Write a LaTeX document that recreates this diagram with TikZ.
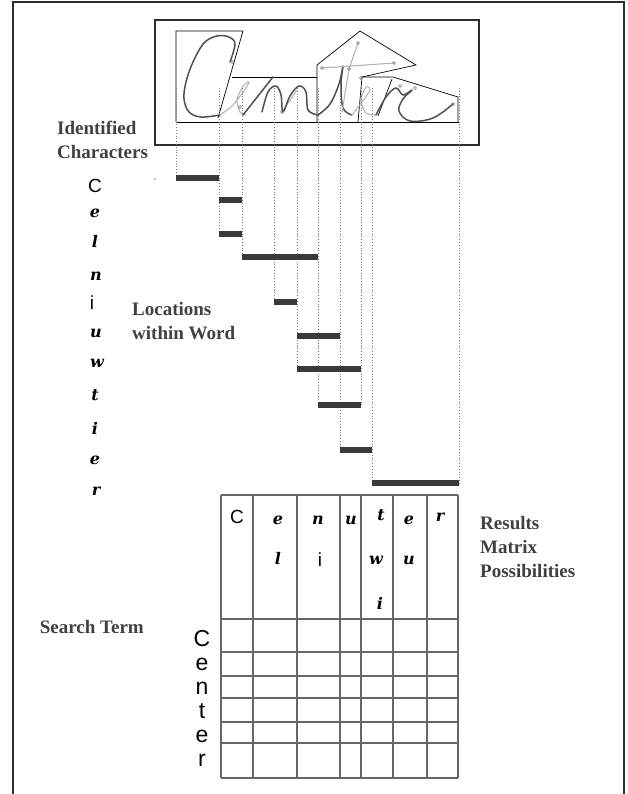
\documentclass[tikz,border=0pt]{standalone}
\usepackage{fontspec}
\setmainfont{Liberation Serif}
\newfontfamily\arialfont{Liberation Sans}
\newfontfamily\glyphfont{DejaVu Serif}
\definecolor{ink}{HTML}{2E2E2E}
\definecolor{labelgray}{HTML}{404040}
\definecolor{guidegray}{HTML}{7A7A7A}
\definecolor{pengray}{HTML}{505050}
\definecolor{lightpen}{HTML}{B4B4B4}
\definecolor{barfill}{HTML}{3A3A3A}
\definecolor{gridgray}{HTML}{666666}
\usetikzlibrary{positioning}
\tikzset{
  lbl/.style={font=\fontsize{19}{24}\selectfont\bfseries, text=labelgray,
    align=left, inner sep=0pt},
  glyph/.style={font=\fontsize{16}{16}\selectfont\glyphfont\bfseries\itshape,
    text=black, inner sep=0pt},
  sans/.style={font=\fontsize{#1}{#1}\selectfont\arialfont, text=black,
    inner sep=0pt},
  sans/.default=19,
  frame/.style={draw=ink, line width=1.1pt},
  seg/.style={draw=black, line width=0.7pt},
  pen/.style={draw=pengray, line width=1.5pt, line cap=round, line join=round},
  lightstroke/.style={draw=lightpen, line width=1.1pt, line cap=round},
  feat/.style={circle, draw=guidegray, inner sep=0pt, minimum size=3pt},
  guide/.style={draw=guidegray, dotted, line width=0.8pt},
  locbar/.style={fill=barfill},
  gridline/.style={draw=gridgray, line width=1.2pt},
}

\begin{document}
\begin{tikzpicture}[x=1pt, y=-1pt]
    \useasboundingbox (0,0) rectangle (628,794);
    \draw[frame] (13,794) -- (13,2) -- (624,2) -- (624,794);

    % handwritten word and its segments
    \draw[frame] (155,20) rectangle (479,145);
    \draw[seg] (176,122) -- (176,31) -- (243,31) -- (218,118);
    \draw[seg] (232,77) -- (317,77);
    \draw[seg] (317,122) -- (317,65) -- (360,31) -- (416,65) -- (362,77) -- (358,122);
    \draw[seg] (362,77) -- (393,77) -- (458,97) -- (458,122);
    \draw[seg] (392,79) -- (378,116);
    \draw[seg] (176,122) -- (459,122);

    \draw[pen] plot[smooth, tension=0.6] coordinates {(230,62) (235,44) (229,37)
      (217,36) (204,43) (193,62) (186,82) (184,99) (189,112) (201,117) (220,115)};
    \draw[lightstroke] plot[smooth] coordinates {(220,115) (232,106) (244,91)
      (249,82) (244,85) (237,99) (240,112) (246,115)};
    \draw[pen] (243,115) -- (273,77);
    \draw[lightstroke] (282,112) -- (297,90);
    \draw[pen] plot[smooth, tension=0.6] coordinates {(262,112) (268,92) (276,86)
      (281,95) (283,112) (290,96) (299,86) (306,92) (308,110) (318,115)};
    \draw[pen] plot[smooth, tension=0.6] coordinates {(318,115) (330,104) (339,84)
      (343,66) (341,84) (343,108) (352,115)};
    \draw[lightstroke] (322,68) -- (394,63);
    \draw[lightstroke] (358,43) -- (349,69) -- (342,112);
    \draw[lightstroke] plot[smooth] coordinates {(352,115) (362,102) (370,90)
      (366,87) (361,100) (366,113) (376,115)};
    \draw[pen] plot[smooth, tension=0.6] coordinates {(376,115) (386,97) (396,88)
      (403,95) (412,90) (403,99) (399,111) (410,121) (433,118) (453,104)};
    \foreach \fx/\fy [count=\k] in {358/43, 322/68, 349/69, 394/63, 400/86,
      415/88, 361/78, 453/104, 282/112, 240/107, 232/62}
      \node[feat] (pt\k) at (\fx,\fy) {};

    % labels
    \node[lbl, anchor=west] (ident) at (57,140) {Identified\\Characters};
    \node[lbl, anchor=west] (loc) at (132,321) {Locations\\within Word};
    \node[lbl, anchor=west] (res) at (480,547) {Results\\Matrix\\Possibilities};
    \node[lbl, anchor=east] (search) at (144,627) {Search Term};
    \fill[guidegray] (155,179) circle (0.9);

    % identified characters
    \node[sans] (idC) at (95,186) {C};
    \node[glyph] (ide) at (95,213) {e};
    \node[glyph] (idl) at (95,241) {l};
    \node[glyph] (idn) at (96,276) {n};
    \node[sans] (idi) at (92,303) {i};
    \node[glyph] (idu) at (96,333) {u};
    \node[glyph] (idw) at (97,363) {w};
    \node[glyph] (idt) at (95,395) {t};
    \node[glyph] (idj) at (95,428) {i};
    \node[glyph] (ide2) at (95,460) {e};
    \node[glyph] (idr) at (96,491) {r};

    % locations within word
    \foreach \xx/\yy in {176/178, 219/234, 242/257, 274/302, 297/369,
      318/405, 340/450, 361/405, 372/483, 459/483}
      \draw[guide] (\xx,88) -- (\xx,\yy);
    \foreach \xa/\xb/\yy in {176/219/178, 219/242/200, 219/242/234,
      242/318/257, 274/297/302, 297/340/336, 297/361/369, 318/361/405,
      340/372/450, 372/459/483}
      \fill[locbar] (\xa,\yy-3) rectangle (\xb,\yy+3);

    % results matrix
    \foreach \xx in {221,253,297,340,361,393,427,458}
      \draw[gridline] (\xx,495) -- (\xx,778);
    \foreach \yy in {495,619,652,676,698,722,743,778}
      \draw[gridline] (221,\yy) -- (458,\yy);

    \node[sans] (mC) at (237,517) {C};
    \node[glyph] (me) at (278,520) {e};
    \node[glyph] (ml) at (278,558) {l};
    \node[glyph] (mn) at (318,520) {n};
    \node[sans] (mi) at (320,560) {i};
    \node[glyph] (mu) at (351,520) {u};
    \node[glyph] (mt) at (381,515) {t};
    \node[glyph] (mw) at (376,560) {w};
    \node[glyph] (mj) at (380,603) {i};
    \node[glyph] (me2) at (409,520) {e};
    \node[glyph] (mu2) at (409,560) {u};
    \node[glyph] (mr) at (440,517) {r};

    % search term
    \foreach \ch [count=\k from 0] in {C,e,n,t,e,r}
      \node[sans=23, anchor=base] (row\k) at (202,646+24*\k) {\ch};
\end{tikzpicture}
\end{document}
